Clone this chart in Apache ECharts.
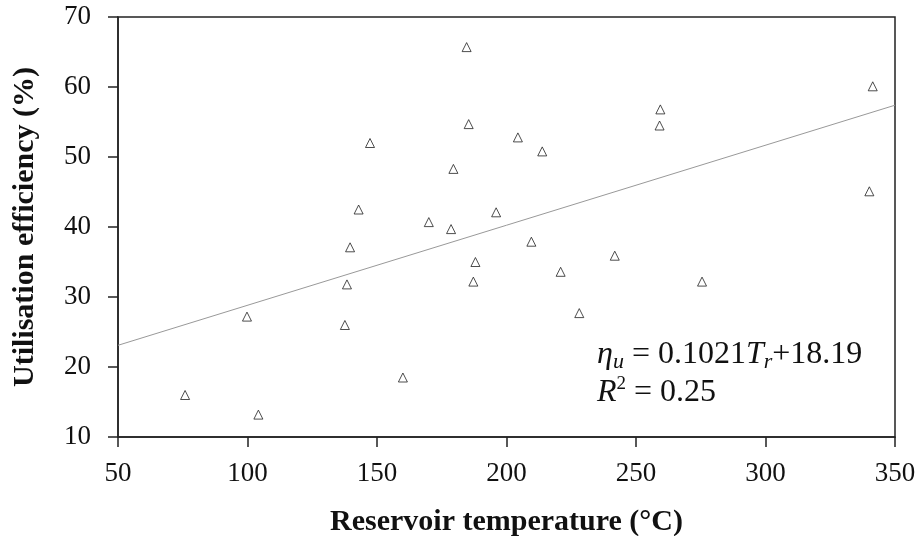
<!DOCTYPE html>
<html>
<head>
<meta charset="utf-8">
<script src="https://cdn.jsdelivr.net/npm/echarts@6/dist/echarts.min.js"></script>
<style>html,body{margin:0;padding:0;background:#fff;}#c{width:919px;height:536px;}</style>
</head>
<body>
<div id="c"></div>
<script>
// Reservoir temperature (°C)
const temperature = [184.6, 185.4, 204.4, 147.3, 179.5, 142.9, 170.0, 178.6, 196.0, 139.6,
  341.4, 259.4, 259.1, 213.8, 340.1, 209.6, 188.0, 138.4, 187.2, 99.8,
  137.6, 160.0, 75.9, 104.2, 241.8, 220.9, 275.5, 228.1];
// Utilisation efficiency (%)
const efficiency = [65.7, 54.7, 52.8, 52.0, 48.3, 42.5, 40.7, 39.7, 42.1, 37.1,
  60.1, 56.8, 54.5, 50.8, 45.1, 37.9, 35.0, 31.8, 32.2, 27.2,
  26.0, 18.5, 16.0, 13.2, 35.9, 33.6, 32.2, 27.7];
// Fitted trend line as drawn (end points)
const trendX = [50, 350];
const trendY = [23.1, 57.4];
// Axis ticks
const xTicks = [50, 100, 150, 200, 250, 300, 350];
const yTicks = [10, 20, 30, 40, 50, 60, 70];

const font = 'Liberation Serif, Times New Roman, serif';
const axisColor = '#222';
const chart = echarts.init(document.getElementById('c'), null, {renderer: 'canvas'});
const points = temperature.map((t, i) => [t, efficiency[i]]);
const trend = trendX.map((t, i) => [t, trendY[i]]);

chart.setOption({
  backgroundColor: '#fff',
  animation: false,
  grid: {left: 118, right: 24, top: 17, bottom: 99, containLabel: false, outerBoundsMode: 'none',
    show: true, borderColor: axisColor, borderWidth: 1.5, backgroundColor: 'transparent'},
  xAxis: {
    type: 'value', min: xTicks[0], max: xTicks[xTicks.length - 1], interval: 50,
    name: 'Reservoir temperature (°C)', nameLocation: 'middle', nameGap: 70,
    nameTextStyle: {fontFamily: font, fontSize: 30, fontWeight: 'bold', color: '#111'},
    axisLine: {show: true, lineStyle: {color: axisColor, width: 1.5}},
    axisTick: {show: true, inside: false, length: 10, lineStyle: {color: axisColor, width: 1.5}},
    axisLabel: {fontFamily: font, fontSize: 27, color: '#111', margin: 23},
    splitLine: {show: false}
  },
  yAxis: {
    type: 'value', min: yTicks[0], max: yTicks[yTicks.length - 1], interval: 10,
    name: 'Utilisation efficiency (%)', nameLocation: 'middle', nameGap: 78,
    nameTextStyle: {fontFamily: font, fontSize: 30, fontWeight: 'bold', color: '#111'},
    axisLine: {show: true, lineStyle: {color: axisColor, width: 1.5}},
    axisTick: {show: true, inside: false, length: 10, lineStyle: {color: axisColor, width: 1.5}},
    axisLabel: {fontFamily: font, fontSize: 27, color: '#111', margin: 27},
    splitLine: {show: false}
  },
  series: [
    {
      type: 'line', data: trend, symbol: 'none', silent: true,
      lineStyle: {color: '#999', width: 1}, z: 1
    },
    {
      type: 'scatter', data: points, symbol: 'triangle', symbolSize: [9, 9],
      itemStyle: {color: 'rgba(255,255,255,0)', borderColor: '#222', borderWidth: 1}, z: 3
    }
  ],
  graphic: [
    {
      type: 'text', left: 597, top: 339,
      style: {
        text: '{i|η}{sub|u}{n| = 0.1021}{i|T}{sub|r}{n|+18.19}',
        fontFamily: font, fontSize: 32, fill: '#111',
        rich: {
          n: {fontFamily: font, fontSize: 32, lineHeight: 36, verticalAlign: 'middle', fill: '#111'},
          i: {fontFamily: font, fontSize: 32, fontStyle: 'italic', lineHeight: 36, verticalAlign: 'middle', fill: '#111'},
          sub: {fontFamily: font, fontSize: 22, fontStyle: 'italic', lineHeight: 14, verticalAlign: 'bottom', fill: '#111'}
        }
      }
    },
    {
      type: 'text', left: 597, top: 375,
      style: {
        text: '{i|R}{sup|2}{n| = 0.25}',
        fontFamily: font, fontSize: 32, fill: '#111',
        rich: {
          n: {fontFamily: font, fontSize: 32, lineHeight: 36, verticalAlign: 'middle', fill: '#111'},
          i: {fontFamily: font, fontSize: 32, fontStyle: 'italic', lineHeight: 36, verticalAlign: 'middle', fill: '#111'},
          sup: {fontFamily: font, fontSize: 19, lineHeight: 19, verticalAlign: 'top', fill: '#111'}
        }
      }
    }
  ]
});
</script>
</body>
</html>
